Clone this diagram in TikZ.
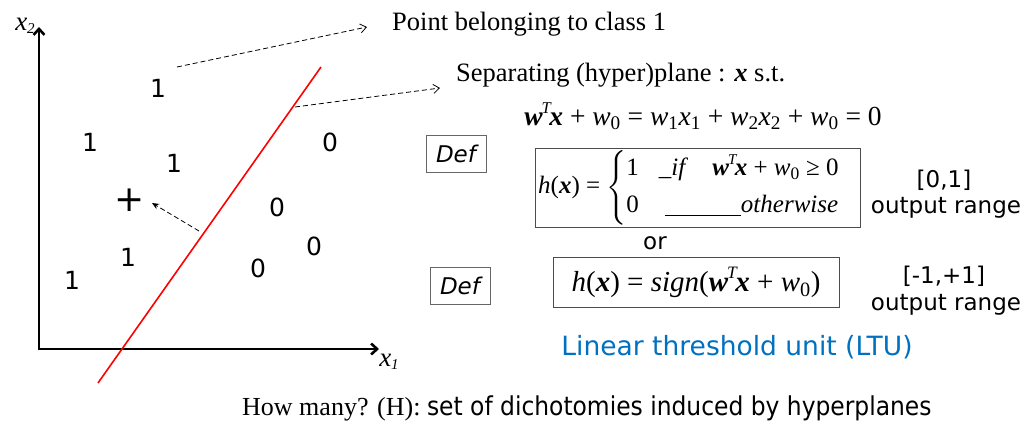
\documentclass[tikz,border=0pt]{standalone}
\usepackage{amsmath}
\usepackage{fontspec}
\setmainfont{Liberation Serif}
\setsansfont{DejaVu Sans}
\newfontfamily\condsans{DejaVu Sans Condensed}
\usetikzlibrary{arrows.meta}
\definecolor{ltublue}{RGB}{0,112,192}
\newcommand{\vx}{\textbf{\textit{x}}}
\newcommand{\vw}{\textbf{\textit{w}}}
\newcommand{\wT}{\vw\kern-1pt\raisebox{0.45em}{\scalebox{0.6}{\textit{T}}}\kern-2.5pt\vx}
\begin{document}
\begin{tikzpicture}[x=1pt,y=-1pt,
  lab/.style={font=\sffamily\fontsize{25}{28}\selectfont, inner sep=0pt},
  axisline/.style={line width=2.6pt, {Straight Barb[length=6pt,width=11pt]}-{Straight Barb[length=6pt,width=11pt]}},
  callout/.style={dash pattern=on 5pt off 3pt, line width=0.8pt, -{Straight Barb[length=6pt,width=9pt]}},
  defbox/.style={draw=black!60, line width=0.8pt, minimum width=60pt, minimum height=37pt, inner sep=0pt, font=\sffamily\itshape\fontsize{23}{24}\selectfont},
  rng/.style={font=\sffamily\fontsize{23}{26}\selectfont, inner sep=0pt}
]
\useasboundingbox (0,0) rectangle (1028,426);
% axes
\coordinate (O) at (39,349);
\coordinate (Ytop) at (39,27);
\coordinate (Xend) at (379,349);
\draw[axisline] (Ytop) -- (O) -- (Xend);
\node[inner sep=0pt, font=\fontsize{27}{28}\selectfont] (x2) at (25,26) {\textit{x}\raisebox{-3pt}{\fontsize{15}{15}\selectfont\textit{2}}};
\node[inner sep=0pt, font=\fontsize{27}{28}\selectfont] (x1) at (389,362) {\textit{x}\raisebox{-3pt}{\fontsize{15}{15}\selectfont\textit{1}}};
% separating line
\coordinate (R1) at (98,383);
\coordinate (R2) at (321,67);
\draw[red, line width=1.6pt] (R1) -- (R2);
% points
\node[lab] (a1) at (158,88) {1};
\node[lab] (a2) at (90,142) {1};
\node[lab] (a3) at (174,163) {1};
\node[lab] (a4) at (128,257) {1};
\node[lab] (a5) at (72,280) {1};
\node[lab] (b1) at (330,142) {0};
\node[lab] (b2) at (277,207) {0};
\node[lab] (b3) at (314,246) {0};
\node[lab] (b4) at (258,268) {0};
\node[inner sep=0pt, font=\sffamily\fontsize{36}{36}\selectfont] (plus) at (130,200) {+};
% callouts
\node[anchor=west, inner sep=0pt, font=\fontsize{26.5}{28}\selectfont] (pt) at (392,24) {Point belonging to class 1};
\node[anchor=west, inner sep=0pt, font=\fontsize{26.5}{28}\selectfont] (sep) at (456,75) {Separating (hyper)plane : \vx{} s.t.};
\coordinate (c1s) at (177,67);
\coordinate (c1e) at (367,27);
\coordinate (c2s) at (295,107);
\coordinate (c2e) at (440,88);
\coordinate (c3s) at (199,231);
\coordinate (c3e) at (152,203);
\draw[callout] (c1s) -- (c1e);
\draw[callout] (c2s) -- (c2e);
\draw[dash pattern=on 5pt off 3pt, line width=0.8pt, -{Stealth[length=7pt,width=6pt]}] (c3s) -- (c3e);
% equation
\node[inner sep=0pt, font=\fontsize{27.5}{28}\selectfont] (eq) at (703,116) {\wT{} + \textit{w}\textsubscript{0} = \textit{w}\textsubscript{1}\textit{x}\textsubscript{1} + \textit{w}\textsubscript{2}\textit{x}\textsubscript{2} + \textit{w}\textsubscript{0} = 0};
% defs
\node[defbox] (def1) at (456,154) {Def};
\node[defbox] (def2) at (460,286) {Def};
\node[draw=black!70, line width=0.9pt, minimum width=325pt, minimum height=79pt, inner sep=0pt] (h1) at (697.5,187.5) {};
\node[inner sep=0pt, anchor=west, font=\fontsize{25}{28}\selectfont] (h1t) at (538,187.5) {\textit{h}(\vx) = $\left\{\begin{tabular}{@{}l@{\hspace{20pt}}l@{\hspace{24pt}}l@{}}1 & \_\textit{if} & \wT{} + \textit{w}\textsubscript{0} ≥ 0\\[9pt] 0 & \multicolumn{2}{l}{\underline{\hspace{76pt}}\textit{otherwise}}\end{tabular}\right.$};
\node[draw=black!70, line width=0.9pt, minimum width=286pt, minimum height=50pt, inner sep=0pt] (h2) at (696,282) {};
\node[inner sep=0pt, font=\fontsize{29}{30}\selectfont] (h2t) at (696,282) {\textit{h}(\vx) = \textit{sign}(\wT{} + \textit{w}\textsubscript{0})};
\node[rng] (or) at (655,243) {or};
\node[rng] (r1) at (944,180) {[0,1]};
\node[rng] (r1b) at (946,208) {output range};
\node[rng] (r2) at (944,276) {[-1,+1]};
\node[rng] (r2b) at (946,305) {output range};
\node[inner sep=0pt, text=ltublue, font=\sffamily\fontsize{26.5}{28}\selectfont] (ltu) at (737,347) {Linear threshold unit (LTU)};
\node[inner sep=0pt, anchor=west] (hm) at (242,408) {\fontsize{26}{28}\selectfont How many? (H): {\condsans set of dichotomies induced by hyperplanes}};
\end{tikzpicture}
\end{document}
